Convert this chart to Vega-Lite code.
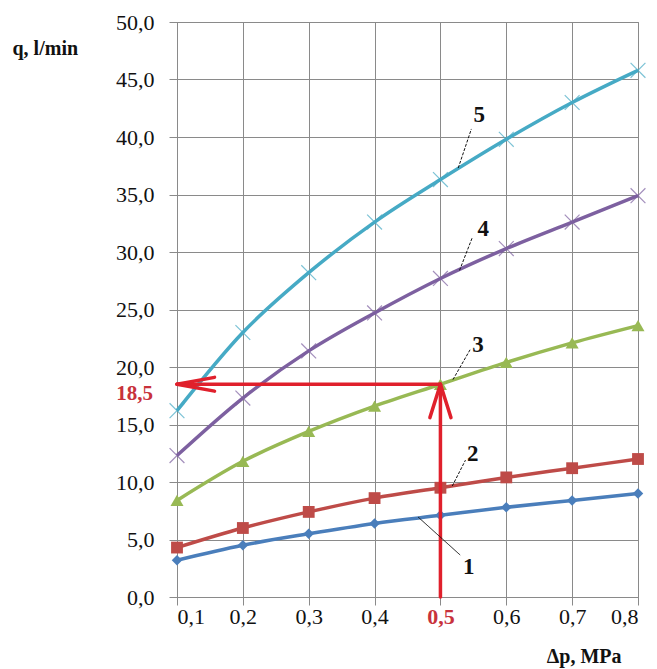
{
  "$schema": "https://vega.github.io/schema/vega-lite/v6.json",
  "autosize": {"type": "none"},
  "padding": {"left": 177, "top": 22, "right": 19, "bottom": 72},
  "width": 461,
  "height": 575,
  "background": "white",
  "config": {
    "font": "Liberation Serif",
    "view": {"stroke": "#8a8a8a", "strokeWidth": 1},
    "axis": {
      "gridColor": "#8a8a8a",
      "gridOpacity": 1,
      "gridWidth": 1,
      "domainColor": "#8a8a8a",
      "tickColor": "#8a8a8a",
      "tickSize": 8,
      "labelFont": "Liberation Serif",
      "labelFontSize": 22,
      "labelColor": "#111111",
      "titleFont": "Liberation Serif",
      "titleFontSize": 20,
      "titleFontWeight": "bold",
      "titleColor": "#111111"
    }
  },
  "datasets": {
    "curves": [
      {"series": "1", "p": 0.1, "q": 3.2}, {"series": "1", "p": 0.2, "q": 4.5}, {"series": "1", "p": 0.3, "q": 5.5}, {"series": "1", "p": 0.4, "q": 6.4},
      {"series": "1", "p": 0.5, "q": 7.1}, {"series": "1", "p": 0.6, "q": 7.8}, {"series": "1", "p": 0.7, "q": 8.4}, {"series": "1", "p": 0.8, "q": 9.0},
      {"series": "2", "p": 0.1, "q": 4.3}, {"series": "2", "p": 0.2, "q": 6.0}, {"series": "2", "p": 0.3, "q": 7.4}, {"series": "2", "p": 0.4, "q": 8.6},
      {"series": "2", "p": 0.5, "q": 9.5}, {"series": "2", "p": 0.6, "q": 10.4}, {"series": "2", "p": 0.7, "q": 11.2}, {"series": "2", "p": 0.8, "q": 12.0},
      {"series": "3", "p": 0.1, "q": 8.4}, {"series": "3", "p": 0.2, "q": 11.8}, {"series": "3", "p": 0.3, "q": 14.4}, {"series": "3", "p": 0.4, "q": 16.6},
      {"series": "3", "p": 0.5, "q": 18.5}, {"series": "3", "p": 0.6, "q": 20.4}, {"series": "3", "p": 0.7, "q": 22.1}, {"series": "3", "p": 0.8, "q": 23.6},
      {"series": "4", "p": 0.1, "q": 12.3}, {"series": "4", "p": 0.2, "q": 17.3}, {"series": "4", "p": 0.3, "q": 21.4}, {"series": "4", "p": 0.4, "q": 24.7},
      {"series": "4", "p": 0.5, "q": 27.7}, {"series": "4", "p": 0.6, "q": 30.3}, {"series": "4", "p": 0.7, "q": 32.6}, {"series": "4", "p": 0.8, "q": 34.9},
      {"series": "5", "p": 0.1, "q": 16.2}, {"series": "5", "p": 0.2, "q": 23.0}, {"series": "5", "p": 0.3, "q": 28.2}, {"series": "5", "p": 0.4, "q": 32.6},
      {"series": "5", "p": 0.5, "q": 36.3}, {"series": "5", "p": 0.6, "q": 39.8}, {"series": "5", "p": 0.7, "q": 43.0}, {"series": "5", "p": 0.8, "q": 45.8}
    ],
    "arrows": [
      {"p": 0.5, "q": 0, "p2": 0.5, "q2": 18.5},
      {"p": 0.5, "q": 18.5, "p2": 0.1, "q2": 18.5},
      {"p": 0.5, "q": 18.5, "p2": 0.484, "q2": 15.6},
      {"p": 0.5, "q": 18.5, "p2": 0.516, "q2": 15.6},
      {"p": 0.1, "q": 18.5, "p2": 0.157, "q2": 19.1},
      {"p": 0.1, "q": 18.5, "p2": 0.157, "q2": 17.9}
    ],
    "leaders": [
      {"label": "1", "p": 0.466, "q": 6.96, "p2": 0.530, "q2": 3.65, "lp": 0.543, "lq": 2.6},
      {"label": "2", "p": 0.518, "q": 9.65, "p2": 0.538, "q2": 11.9, "lp": 0.549, "lq": 12.4},
      {"label": "3", "p": 0.519, "q": 18.9, "p2": 0.545, "q2": 21.5, "lp": 0.557, "lq": 21.9},
      {"label": "4", "p": 0.529, "q": 28.4, "p2": 0.548, "q2": 31.2, "lp": 0.565, "lq": 32.0},
      {"label": "5", "p": 0.527, "q": 37.3, "p2": 0.547, "q2": 40.7, "lp": 0.559, "lq": 41.9}
    ],
    "marked": [{"p": 0.1, "q": 18.5, "text": "18,5"}]
  },
  "layer": [
    {
      "data": {"name": "curves"},
      "mark": {"type": "line", "interpolate": "monotone", "strokeWidth": 3.5},
      "encoding": {
        "x": {
          "field": "p", "type": "quantitative",
          "scale": {"domain": [0.1, 0.8], "nice": false, "zero": false},
          "axis": {
            "values": [0.1, 0.2, 0.3, 0.4, 0.5, 0.6, 0.7, 0.8],
            "labelExpr": "replace(format(datum.value, '.1f'), '.', ',')",
            "labelPadding": 1,
            "labelColor": {"condition": {"test": "abs(datum.value - 0.5) < 0.001", "value": "#C8323C"}, "value": "#111111"},
            "labelFontWeight": {"condition": {"test": "abs(datum.value - 0.5) < 0.001", "value": "bold"}, "value": "normal"},
            "title": "Δp, MPa",
            "titleAngle": 0,
            "titleX": 444,
            "titleY": 59,
            "titleAlign": "right",
            "titleBaseline": "middle"
          }
        },
        "y": {
          "field": "q", "type": "quantitative",
          "scale": {"domain": [0, 50], "nice": false},
          "axis": {
            "values": [0, 5, 10, 15, 20, 25, 30, 35, 40, 45, 50],
            "labelExpr": "replace(format(datum.value, '.1f'), '.', ',')",
            "labelPadding": 15,
            "title": "q, l/min",
            "titleAngle": 0,
            "titleX": -165,
            "titleY": 26,
            "titleAlign": "left",
            "titleBaseline": "middle"
          }
        },
        "color": {
          "field": "series", "type": "nominal",
          "scale": {"domain": ["1", "2", "3", "4", "5"], "range": ["#4A7EBB", "#BE4B48", "#98B954", "#7D60A0", "#46AAC5"]},
          "legend": null
        }
      }
    },
    {
      "data": {"name": "curves"},
      "transform": [{"filter": "datum.series == '1' || datum.series == '2' || datum.series == '3'"}],
      "mark": {"type": "point", "filled": true, "opacity": 1},
      "encoding": {
        "x": {"field": "p", "type": "quantitative"},
        "y": {"field": "q", "type": "quantitative"},
        "color": {"field": "series", "type": "nominal"},
        "shape": {
          "field": "series", "type": "nominal",
          "scale": {"domain": ["1", "2", "3"], "range": ["diamond", "square", "triangle-up"]},
          "legend": null
        },
        "size": {
          "field": "series", "type": "nominal",
          "scale": {"domain": ["1", "2", "3"], "range": [110, 170, 150]},
          "legend": null
        }
      }
    },
    {
      "data": {"name": "curves"},
      "transform": [{"filter": "datum.series == '4' || datum.series == '5'"}],
      "mark": {"type": "point", "filled": false, "shape": "M-1,-1L1,1M-1,1L1,-1", "size": 220, "strokeWidth": 1.2, "opacity": 0.7},
      "encoding": {
        "x": {"field": "p", "type": "quantitative"},
        "y": {"field": "q", "type": "quantitative"},
        "color": {"field": "series", "type": "nominal"}
      }
    },
    {
      "data": {"name": "arrows"},
      "mark": {"type": "rule", "color": "#E0202C", "strokeWidth": 3.5, "strokeCap": "round"},
      "encoding": {
        "x": {"field": "p", "type": "quantitative"},
        "y": {"field": "q", "type": "quantitative"},
        "x2": {"field": "p2"},
        "y2": {"field": "q2"}
      }
    },
    {
      "data": {"name": "leaders"},
      "mark": {"type": "rule", "color": "#111111", "strokeWidth": 1},
      "encoding": {
        "x": {"field": "p", "type": "quantitative"},
        "y": {"field": "q", "type": "quantitative"},
        "x2": {"field": "p2"},
        "y2": {"field": "q2"},
        "strokeDash": {
          "field": "label", "type": "nominal",
          "scale": {"domain": ["1", "2", "3", "4", "5"], "range": [[1, 0], [3, 1.5], [3, 1.5], [3, 1.5], [3, 1.5]]},
          "legend": null
        }
      }
    },
    {
      "data": {"name": "leaders"},
      "mark": {"type": "text", "font": "Liberation Serif", "fontSize": 23, "fontWeight": "bold", "color": "#111111", "align": "center", "baseline": "middle"},
      "encoding": {
        "x": {"field": "lp", "type": "quantitative"},
        "y": {"field": "lq", "type": "quantitative"},
        "text": {"field": "label"}
      }
    },
    {
      "data": {"name": "marked"},
      "mark": {"type": "text", "font": "Liberation Serif", "fontSize": 21, "fontWeight": "bold", "color": "#C8323C", "align": "right", "baseline": "middle", "dx": -24, "dy": 10},
      "encoding": {
        "x": {"field": "p", "type": "quantitative"},
        "y": {"field": "q", "type": "quantitative"},
        "text": {"field": "text"}
      }
    }
  ]
}
